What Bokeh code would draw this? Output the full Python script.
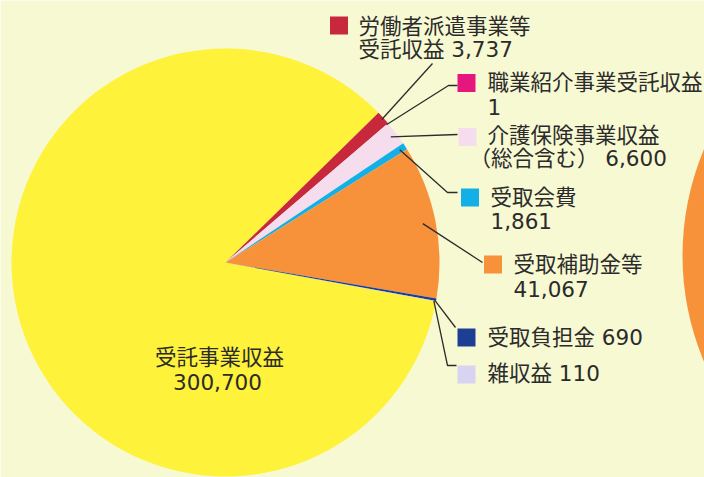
import math
import numpy as np
from bokeh.plotting import figure
from bokeh.models import Range1d, ColumnDataSource
from bokeh.core.properties import value
from bokeh.embed import file_html
from bokeh.resources import INLINE

# ---------------- data ----------------
categories = ["受託事業収益", "労働者派遣事業等受託収益", "職業紹介事業受託収益",
              "介護保険事業収益（総合含む）", "受取会費", "受取補助金等", "受取負担金", "雑収益"]
values = [300700, 3737, 1, 6600, 1861, 41067, 690, 110]
colors = ["#fef23a", "#c8283c", "#e5177f", "#f5ddee", "#12b0e6", "#f7923a", "#1c3f94", "#d8d3f0"]
line1_tpl = ["受託事業収益", "労働者派遣事業等", "職業紹介事業受託収益", "介護保険事業収益",
             "受取会費", "受取補助金等", "受取負担金 {v}", "雑収益 {v}"]
line2_tpl = ["{v}", "受託収益 {v}", "{v}", "（総合含む） {v}", "{v}", "{v}", "", ""]

# ---------------- layout (pixels, y down) ----------------
W, H = 704, 477
BG = "#f7f9d3"
TXT = "#2b2b2b"
FONT = value("DejaVu Sans, Noto Sans CJK JP")
CX, CY, R = 225, 262, 214
START_DEG = -10.5

def Y(y):
    return H - y

# label layout for slices 1..7
sq = [(338.5, 25), (466, 82.5), (467, 136.5), (469.5, 197), (492.5, 264), (466, 337), (466, 374)]
tx1 = [358, 487, 487, 490, 513, 487, 487]
ty1 = [26, 82, 135, 197, 264, 337, 373]
tx2 = [358, 487, 469, 490, 513, None, None]
ty2 = [49, 106, 158, 220, 288, None, None]
lead_r = [0.99, 0.99, 0.97, 0.97, 0.94, 0.99, 0.99]
lead_pts = [[(432, 63)], [(448, 85), (457, 85)], [(457, 134)], [(447, 192), (457, 192)],
            [(482, 262)], [(455, 327)], [(447, 365), (456, 365)]]

p = figure(width=W, height=H, x_range=Range1d(0, W), y_range=Range1d(0, H),
           output_backend="svg", toolbar_location=None, min_border=0)
p.axis.visible = False
p.grid.visible = False
p.outline_line_color = None
p.background_fill_color = BG
p.border_fill_color = BG

# neighbouring chart partly visible at right edge
p.circle(x=[955], y=[Y(255)], radius=273, fill_color="#f7923a", line_color=None)

# pie: clockwise from START_DEG
total = float(sum(values))
ang = np.array(values) / total * 2 * math.pi
cum = np.concatenate([[0], np.cumsum(ang)])
s0 = math.radians(START_DEG)
end_a = s0 - cum[:-1]
start_a = s0 - cum[1:]
mid_a = (start_a + end_a) / 2
src = ColumnDataSource(dict(start=start_a, end=end_a, color=colors))
p.wedge(x=CX, y=Y(CY), radius=R, start_angle="start", end_angle="end",
        fill_color="color", line_color=None, source=src)

# leader lines
xs, ys = [], []
for i in range(1, len(values)):
    a = mid_a[i]
    r = R * lead_r[i - 1]
    px = [CX + r * math.cos(a)] + [pt[0] for pt in lead_pts[i - 1]]
    py = [Y(CY) + r * math.sin(a)] + [Y(pt[1]) for pt in lead_pts[i - 1]]
    xs.append(px)
    ys.append(py)
p.multi_line(xs=xs, ys=ys, line_color="#2b2b2b", line_width=1.3)

# legend squares
p.rect(x=[s[0] for s in sq], y=[Y(s[1]) for s in sq], width=18, height=18,
       fill_color=colors[1:], line_color=None)

# texts
txt_x, txt_y, txt = [], [], []
for i in range(1, len(values)):
    v = f"{values[i]:,}"
    txt_x.append(tx1[i - 1]); txt_y.append(Y(ty1[i - 1])); txt.append(line1_tpl[i].format(v=v))
    if line2_tpl[i]:
        txt_x.append(tx2[i - 1]); txt_y.append(Y(ty2[i - 1])); txt.append(line2_tpl[i].format(v=v))
p.text(x=txt_x, y=txt_y, text=txt, text_font=FONT, text_font_size="21.5px",
       text_baseline="middle", text_align="left", text_color=TXT)

# main slice label
p.text(x=[219, 217], y=[Y(357), Y(381)],
       text=[line1_tpl[0], line2_tpl[0].format(v=f"{values[0]:,}")],
       text_font=FONT, text_font_size="21.5px", text_baseline="middle",
       text_align="center", text_color=TXT)

open("out.html", "w").write(file_html(p, INLINE))
